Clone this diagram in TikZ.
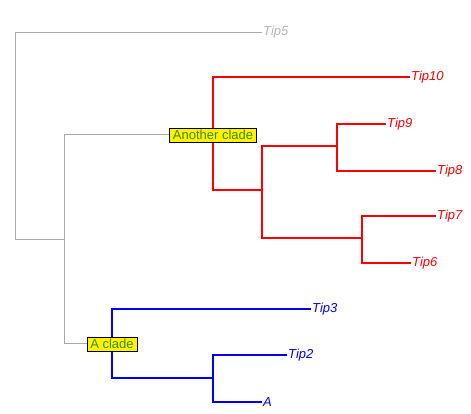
\documentclass[tikz,border=0pt]{standalone}
\usepackage{fontspec}
\setmainfont{Liberation Sans}
\definecolor{treegray}{RGB}{169,169,169}
\definecolor{tipgray}{RGB}{180,180,180}
\definecolor{cladetext}{RGB}{60,140,0}
\begin{document}
\begin{tikzpicture}[x=1pt,y=-1pt,
  tip/.style={anchor=west,inner sep=1pt,font=\fontsize{13}{15}\selectfont\itshape},
  clade/.style={rectangle,draw=black,fill=yellow,text=cladetext,inner xsep=3.5pt,inner ysep=2pt,
    font=\fontsize{13}{15}\selectfont},
  grayline/.style={draw=treegray,line width=1pt},
  redline/.style={draw=red,line width=2pt},
  blueline/.style={draw=blue,line width=2pt}]
\useasboundingbox (0,0) rectangle (471,413);
\coordinate (root) at (15,135);
\coordinate (n1) at (64,239);
\coordinate (n2) at (213,134);
\coordinate (n3) at (262,190);
\coordinate (n4) at (337,146);
\coordinate (n5) at (362,238);
\coordinate (n6) at (112,343);
\coordinate (n7) at (213,378);
\node [tip,text=tipgray] (tip5) at (262,32) {Tip5};
\node [tip,text=red] (tip10) at (410,77) {Tip10};
\node [tip,text=red] (tip9) at (386,124) {Tip9};
\node [tip,text=red] (tip8) at (436,171) {Tip8};
\node [tip,text=red] (tip7) at (436,216) {Tip7};
\node [tip,text=red] (tip6) at (411,263) {Tip6};
\node [tip,text=blue] (tip3) at (311,309) {Tip3};
\node [tip,text=blue] (tip2) at (287,355) {Tip2};
\node [tip,text=blue] (tipA) at (262,402) {A};
% grey part
\draw [grayline] (root) |- (tip5.west);
\draw [grayline] (root) |- (n1);
\draw [grayline] (n1) |- (n2);
\draw [grayline] (n1) |- (n6);
% another clade
\draw [redline] (n2) |- (tip10.west);
\draw [redline] (n2) |- (n3);
\draw [redline] (n3) |- (n4);
\draw [redline] (n3) |- (n5);
\draw [redline] (n4) |- (tip9.west);
\draw [redline] (n4) |- (tip8.west);
\draw [redline] (n5) |- (tip7.west);
\draw [redline] (n5) |- (tip6.west);
% a clade
\draw [blueline] (n6) |- (tip3.west);
\draw [blueline] (n6) |- (n7);
\draw [blueline] (n7) |- (tip2.west);
\draw [blueline] (n7) |- (tipA.west);
\node [clade] (another) at (213,135) {Another clade};
\node [clade] (aclade) at (112,344) {A clade};
\end{tikzpicture}
\end{document}
